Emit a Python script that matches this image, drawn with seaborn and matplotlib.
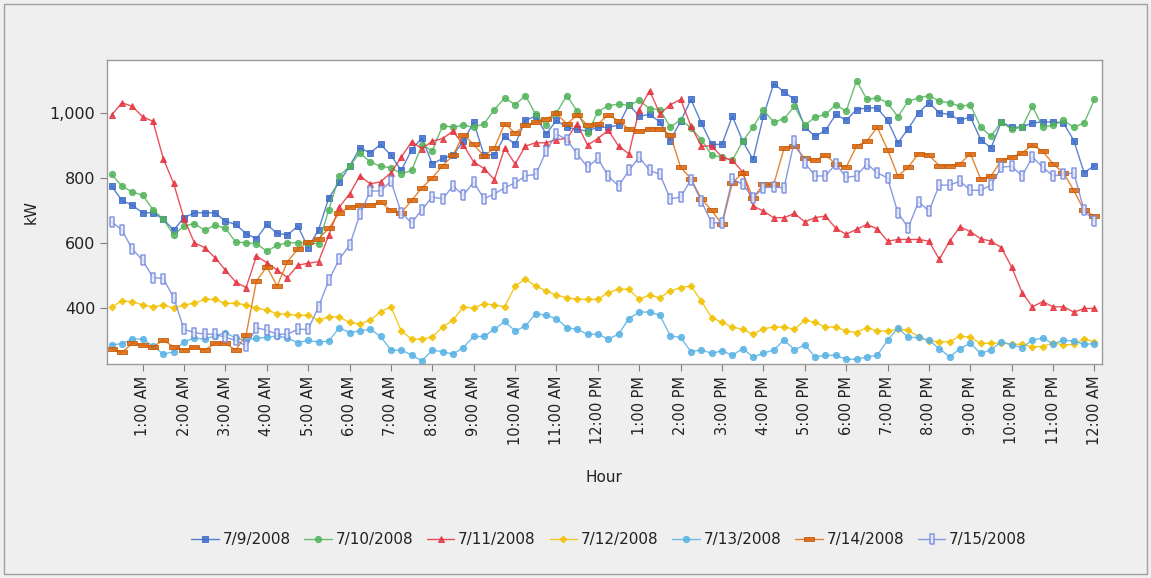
import matplotlib
matplotlib.use('Agg')
import matplotlib.pyplot as plt
import matplotlib.patches as mpatches
from matplotlib.ticker import FuncFormatter
import numpy as np
import pandas as pd
import seaborn as sns

sns.set_style("white")
plt.rcParams['font.family'] = ['DejaVu Sans']

# 15-minute readings, 0:15 AM .. 12:00 AM (96 per day)
hours = [(i + 1) * 0.25 for i in range(96)]

kw_0709 = [775, 731, 716, 693, 693, 673, 640, 678, 693, 693, 693, 667, 657, 629, 613, 657, 630, 625, 652, 586,
           640, 739, 787, 836, 892, 877, 903, 870, 823, 887, 923, 843, 860, 870, 913, 971, 870, 872, 928,
           903, 977, 990, 935, 977, 956, 949, 944, 956, 956, 962, 1025, 990, 995, 972, 915, 974, 1041, 969,
           903, 903, 990, 913, 857, 990, 1090, 1064, 1041, 956, 928, 946, 995, 977, 1010, 1015, 1015, 977, 908, 951,
           1000, 1031, 1000, 995, 977, 988, 918, 892, 972, 956, 956, 969, 972, 972, 969, 915, 816, 838]
kw_0710 = [811, 775, 757, 747, 703, 673, 625, 652, 660, 639, 655, 645, 603, 601, 598, 575, 593, 601, 601, 601,
           598, 703, 806, 836, 877, 849, 836, 831, 813, 823, 901, 884, 961, 956, 962, 956, 966, 1010, 1046,
           1025, 1053, 995, 962, 1000, 1053, 1005, 938, 1003, 1022, 1027, 1023, 1038, 1013, 1010, 956, 979, 954, 918,
           870, 864, 854, 913, 956, 1008, 972, 982, 1020, 962, 987, 995, 1025, 1005, 1099, 1041, 1046, 1031, 988, 1036,
           1046, 1053, 1036, 1031, 1020, 1025, 956, 928, 972, 949, 956, 1020, 956, 962, 977, 956, 969, 1041]
kw_0711 = [993, 1031, 1020, 988, 974, 859, 783, 675, 601, 586, 555, 517, 480, 463, 560, 540, 517, 494, 532, 538,
           543, 625, 710, 751, 806, 782, 788, 816, 864, 911, 890, 913, 921, 944, 901, 849, 829, 795, 892,
           843, 898, 908, 908, 918, 921, 966, 901, 921, 947, 898, 874, 1010, 1068, 997, 1025, 1041, 959, 898,
           898, 864, 854, 819, 714, 698, 678, 678, 691, 665, 678, 683, 645, 627, 642, 657, 644, 606, 611, 611,
           611, 606, 550, 606, 650, 635, 613, 606, 586, 526, 448, 404, 420, 404, 404, 388, 399, 399]
kw_0712 = [404, 422, 420, 410, 404, 410, 400, 410, 415, 427, 427, 415, 415, 410, 400, 394, 383, 381, 378, 378,
           363, 373, 373, 356, 351, 363, 389, 404, 330, 305, 305, 312, 342, 363, 404, 400, 414, 410, 404,
           468, 489, 468, 453, 440, 432, 427, 427, 427, 448, 458, 458, 427, 440, 432, 453, 463, 468, 422,
           371, 356, 342, 335, 320, 337, 342, 342, 335, 363, 356, 342, 342, 330, 325, 340, 330, 330, 335, 332,
           312, 299, 297, 297, 315, 310, 292, 292, 294, 289, 289, 281, 282, 294, 287, 289, 305, 297]
kw_0713 = [287, 291, 305, 305, 284, 259, 266, 297, 308, 305, 315, 325, 308, 302, 308, 310, 315, 308, 294, 301,
           296, 299, 340, 325, 330, 335, 313, 271, 271, 256, 238, 271, 266, 259, 279, 313, 313, 335, 359,
           330, 345, 383, 378, 368, 340, 335, 320, 320, 305, 320, 368, 388, 388, 378, 315, 310, 266, 272,
           261, 269, 255, 276, 250, 261, 272, 302, 272, 287, 250, 255, 255, 243, 243, 250, 255, 301, 340, 310,
           310, 301, 276, 250, 276, 292, 261, 272, 297, 287, 279, 302, 308, 291, 301, 299, 289, 291]
kw_0714 = [276, 264, 292, 287, 281, 302, 281, 271, 281, 271, 292, 292, 271, 318, 483, 527, 468, 543, 581, 603,
           613, 645, 693, 710, 716, 716, 726, 700, 693, 731, 770, 800, 838, 869, 933, 903, 867, 892, 967,
           938, 962, 971, 981, 998, 966, 993, 962, 966, 993, 976, 949, 944, 951, 951, 933, 833, 797, 736,
           700, 657, 785, 816, 739, 780, 780, 892, 898, 860, 854, 870, 843, 833, 898, 913, 956, 887, 806, 833,
           875, 870, 838, 838, 843, 875, 797, 806, 854, 864, 877, 901, 882, 843, 816, 762, 700, 683]
kw_0715 = [665, 640, 581, 548, 494, 491, 432, 335, 325, 320, 320, 310, 301, 284, 340, 332, 320, 320, 335, 335,
           404, 486, 550, 593, 688, 760, 760, 790, 693, 662, 703, 741, 736, 775, 747, 787, 736, 751, 770,
           785, 806, 811, 882, 935, 918, 874, 833, 860, 806, 775, 823, 864, 823, 811, 736, 741, 795, 729,
           662, 662, 797, 780, 739, 770, 772, 770, 915, 846, 806, 806, 843, 802, 806, 843, 816, 800, 693, 647,
           727, 698, 778, 778, 790, 762, 762, 778, 833, 836, 806, 864, 833, 806, 811, 816, 700, 667]

dates = ["7/9/2008", "7/10/2008", "7/11/2008", "7/12/2008", "7/13/2008", "7/14/2008", "7/15/2008"]
series = [kw_0709, kw_0710, kw_0711, kw_0712, kw_0713, kw_0714, kw_0715]

tick_hours = list(range(1, 25))
tick_labels = ["1:00 AM", "2:00 AM", "3:00 AM", "4:00 AM", "5:00 AM", "6:00 AM", "7:00 AM", "8:00 AM",
               "9:00 AM", "10:00 AM", "11:00 AM", "12:00 PM", "1:00 PM", "2:00 PM", "3:00 PM", "4:00 PM",
               "5:00 PM", "6:00 PM", "7:00 PM", "8:00 PM", "9:00 PM", "10:00 PM", "11:00 PM", "12:00 AM"]

df = pd.concat([pd.DataFrame({"Hour": hours, "kW": s, "Date": d}) for d, s in zip(dates, series)],
               ignore_index=True)

colors = {"7/9/2008": "#3d6cc8", "7/10/2008": "#52b35a", "7/11/2008": "#e5323e", "7/12/2008": "#f1c000",
          "7/13/2008": "#58b2e4", "7/14/2008": "#e26f0c", "7/15/2008": "#7488dc"}
wide_rect = [(-1, -0.5), (1, -0.5), (1, 0.5), (-1, 0.5), (-1, -0.5)]
tall_rect = [(-0.45, -1), (0.45, -1), (0.45, 1), (-0.45, 1), (-0.45, -1)]
markers = {"7/9/2008": "s", "7/10/2008": "o", "7/11/2008": "^", "7/12/2008": "D",
           "7/13/2008": "o", "7/14/2008": wide_rect, "7/15/2008": tall_rect}
msizes = {"7/9/2008": 4, "7/10/2008": 4.5, "7/11/2008": 5, "7/12/2008": 3.5,
          "7/13/2008": 4.5, "7/14/2008": 6.5, "7/15/2008": 6.5}

fig = plt.figure(figsize=(11.51, 5.78), dpi=100, facecolor="#efefef")
ax = fig.add_axes([0.093, 0.370, 0.864, 0.526])
ax.set_facecolor("white")

sns.lineplot(data=df, x="Hour", y="kW", hue="Date", style="Date", hue_order=dates, style_order=dates,
             palette=colors, markers=markers, dashes=False, linewidth=1.0, legend=False, ax=ax)

for line, d in zip(ax.lines, dates):
    line.set_markersize(msizes[d])
    line.set_markeredgewidth(0.7)
    line.set_markeredgecolor(colors[d])
    line.set_alpha(0.85)
    if d == "7/15/2008":
        line.set_markerfacecolor("#e6eaf8")
        line.set_markeredgewidth(1.1)
    if d == "7/14/2008":
        line.set_markerfacecolor("#d9640a")
        line.set_markeredgecolor("#c85a06")

ax.set_xlim(0.14, 24.17)
ax.set_ylim(228, 1162)
ax.set_xticks(tick_hours)
ax.set_xticklabels(tick_labels, rotation=90, fontsize=10.5, color="#222222")
ax.set_yticks([400, 600, 800, 1000])
ax.yaxis.set_major_formatter(FuncFormatter(lambda v, p: f"{int(v):,}"))
ax.tick_params(axis="y", labelsize=11.5, labelcolor="#222222")
ax.tick_params(axis="both", direction="out", length=5, width=0.8, color="#808080", bottom=True, left=True)
for sp in ax.spines.values():
    sp.set_color("#9a9a9a")
    sp.set_linewidth(1.0)
ax.set_xlabel("Hour", fontsize=11, labelpad=18, color="#222222")
ax.set_ylabel("kW", fontsize=11, labelpad=8, color="#222222")

fig.legend(ax.lines[:7], dates, loc="center", bbox_to_anchor=(0.529, 0.066), ncol=7, frameon=False,
           fontsize=11, handlelength=1.8, handletextpad=0.25, columnspacing=0.9, labelcolor="#222222")

fig.patches.append(mpatches.Rectangle((4 / 1151, 4 / 578), 1143 / 1151, 570 / 578, transform=fig.transFigure,
                                      fill=False, edgecolor="#a0a0a0", linewidth=1.0))

fig.savefig("out.png", dpi=100, facecolor=fig.get_facecolor())
